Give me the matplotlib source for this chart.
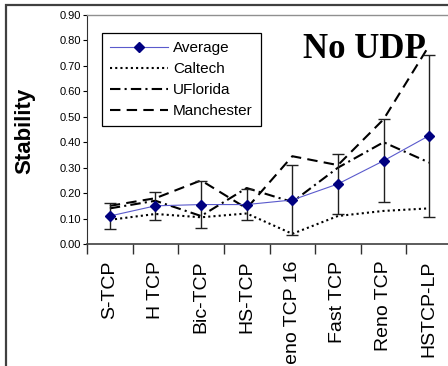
import numpy as np
import matplotlib
matplotlib.use('Agg')
import matplotlib.pyplot as plt
from matplotlib.patches import Rectangle

categories = ['S-TCP', 'H TCP', 'Bic-TCP', 'HS-TCP', 'Reno TCP 16', 'Fast TCP', 'Reno TCP', 'HSTCP-LP']
average = [0.11, 0.15, 0.155, 0.155, 0.173, 0.236, 0.327, 0.426]
avg_err = [0.05, 0.055, 0.092, 0.06, 0.136, 0.118, 0.163, 0.318]
caltech = [0.095, 0.118, 0.105, 0.12, 0.04, 0.11, 0.13, 0.14]
uflorida = [0.14, 0.17, 0.11, 0.22, 0.165, 0.30, 0.40, 0.32]
manchester = [0.15, 0.18, 0.25, 0.14, 0.345, 0.31, 0.49, 0.78]
yticks = [0.0, 0.1, 0.2, 0.3, 0.4, 0.5, 0.6, 0.7, 0.8, 0.9]

plt.rcParams['font.family'] = ['Liberation Sans', 'DejaVu Sans']

W, H = 448, 366
fig = plt.figure(figsize=(W / 100, H / 100), dpi=100)
ax = fig.add_axes([87 / W, 1 - 244 / H, 365 / W, 229 / H])

x = np.arange(len(categories))

ax.plot(x, caltech, color='black', lw=1.5, ls=(0, (1, 1.5)), label='Caltech')
ax.plot(x, uflorida, color='black', lw=1.5, ls=(0, (5, 2, 1, 2)), label='UFlorida')
ax.plot(x, manchester, color='black', lw=1.5, ls=(0, (5, 3)), label='Manchester')
ax.errorbar(x, average, yerr=avg_err, fmt='none', ecolor='#202020', elinewidth=1,
            capsize=4, capthick=1, zorder=3)
avg_line, = ax.plot(x, average, color='#5a5acc', lw=0.8, marker='D', ms=5.5,
                    mfc='#000080', mec='#000080', zorder=4, label='Average')

ax.set_xlim(-0.5, len(categories) - 0.5)
ax.set_ylim(0, 0.9)
ax.set_yticks(yticks)
ax.set_yticklabels(['%.2f' % v for v in yticks], fontsize=8)
ax.tick_params(axis='y', length=3, width=0.8, pad=1)
ax.set_xticks(x)
ax.set_xticklabels(categories, rotation=90, fontsize=14, va='top')
ax.tick_params(axis='x', which='major', length=0, pad=12)
ax.set_xticks(np.arange(-0.5, len(categories)), minor=True)
ax.tick_params(axis='x', which='minor', length=7, width=1, color='#303030')

ax.spines['top'].set_color('#909090')
ax.spines['top'].set_linewidth(1)
ax.spines['right'].set_visible(False)
ax.spines['left'].set_color('#303030')
ax.spines['bottom'].set_color('#404040')
ax.spines['bottom'].set_linewidth(1.2)

handles, labels = ax.get_legend_handles_labels()
order = [3, 0, 1, 2]
leg = fig.legend([handles[i] for i in order], [labels[i] for i in order],
                 loc='upper left', bbox_to_anchor=(102 / W, 1 - 33 / H),
                 bbox_transform=fig.transFigure, fontsize=11, frameon=True,
                 fancybox=False, edgecolor='black', framealpha=1, numpoints=1,
                 handlelength=3.8, handletextpad=0.3, labelspacing=0.45,
                 borderpad=0.55, borderaxespad=0)
leg.get_frame().set_linewidth(0.9)

fig.text(303 / W, 1 - 58 / H, 'No UDP', fontsize=25, fontweight='bold',
         family='Liberation Serif', ha='left', va='baseline')
fig.text(25 / W, 1 - 131 / H, 'Stability', fontsize=16, fontweight='bold',
         rotation=90, ha='center', va='center')

fig.add_artist(Rectangle((6 / W, -0.1), 1.2, 1.1 - 5 / H, transform=fig.transFigure,
                         fill=False, edgecolor='#404040', lw=1.6, clip_on=False))

fig.savefig('out.png', dpi=100)
